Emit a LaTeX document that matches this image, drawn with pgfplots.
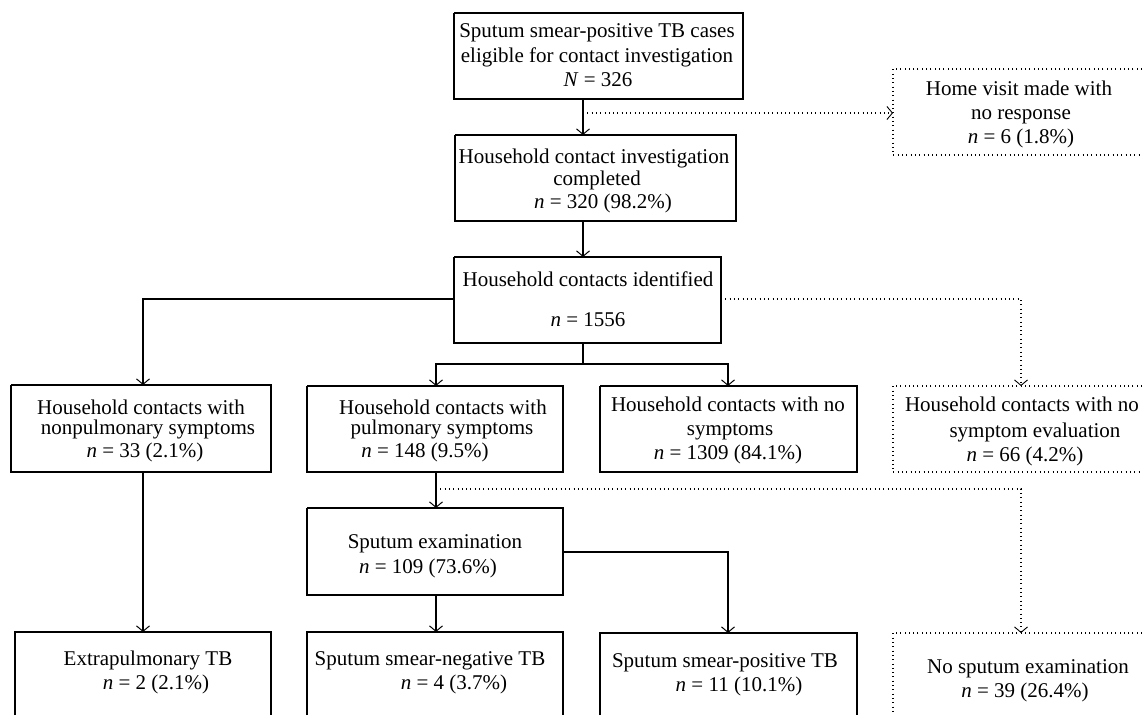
\documentclass[border=0pt]{standalone}
\usepackage{fontspec}
\setmainfont{Liberation Serif}
\usepackage{pgfplots}
\pgfplotsset{compat=1.18}
\usetikzlibrary{arrows.meta}
\tikzset{
  bx/.style={black,line width=1.3pt},
  ln/.style={black,line width=1.1pt},
  conn/.style={ln,-{Straight Barb[length=5.5pt,width=13pt,line width=1pt]}},
  dl/.style={black,line width=1.1pt,dash pattern=on 1pt off 3.3pt},
  darr/.style={dl,-{Straight Barb[length=5.5pt,width=13pt,line width=0.9pt]}},
  tx/.style={anchor=base,inner sep=0pt,font=\fontsize{21}{24}\selectfont}
}
\newcommand{\n}{\textit{n}}
\begin{document}
\begin{tikzpicture}[x=1pt,y=1pt]
\useasboundingbox (0,0) rectangle (1142,715);
\begin{axis}[at={(0pt,0pt)},anchor=south west,scale only axis,
  width=1142pt,height=715pt,xmin=0,xmax=1142,ymin=0,ymax=715,
  y dir=reverse,hide axis,clip=false]
% ---------- solid boxes ----------
\addplot[bx] coordinates {(454,13) (743,13) (743,99) (454,99) (454,13)};
\addplot[bx] coordinates {(455,135) (736,135) (736,221) (455,221) (455,135)};
\addplot[bx] coordinates {(454,257) (721,257) (721,343) (454,343) (454,257)};
\addplot[bx] coordinates {(11,385) (271,385) (271,472) (11,472) (11,385)};
\addplot[bx] coordinates {(307,386) (563,386) (563,472) (307,472) (307,386)};
\addplot[bx] coordinates {(600,386) (857,386) (857,472) (600,472) (600,386)};
\addplot[bx] coordinates {(307,508) (563,508) (563,595) (307,595) (307,508)};
\addplot[bx] coordinates {(15,715) (15,632) (271,632) (271,715)};
\addplot[bx] coordinates {(307,715) (307,632) (563,632) (563,715)};
\addplot[bx] coordinates {(600,715) (600,633) (857,633) (857,715)};
% ---------- dotted boxes ----------
\addplot[dl] coordinates {(1142,69) (893,69) (893,155) (1142,155)};
\addplot[dl] coordinates {(1142,386) (893,386) (893,472) (1142,472)};
\addplot[dl] coordinates {(1142,633) (893,633) (893,715)};
% ---------- solid connectors ----------
\addplot[conn] coordinates {(583,99) (583,135)};
\addplot[conn] coordinates {(583,221) (583,257)};
\addplot[conn] coordinates {(454,299) (143,299) (143,385)};
\addplot[ln] coordinates {(583,343) (583,364)};
\addplot[conn] coordinates {(583,364) (436,364) (436,386)};
\addplot[conn] coordinates {(583,364) (728,364) (728,386)};
\addplot[conn] coordinates {(436,472) (436,508)};
\addplot[conn] coordinates {(143,472) (143,632)};
\addplot[conn] coordinates {(436,595) (436,632)};
\addplot[conn] coordinates {(563,552) (728,552) (728,633)};
% ---------- dotted connectors ----------
\addplot[darr] coordinates {(583,113) (893,113)};
\addplot[darr] coordinates {(721,299) (1021,299) (1021,386)};
\addplot[darr] coordinates {(436,489) (1021,489) (1021,633)};
% ---------- texts ----------
\node[tx] at (axis cs:597,37) {Sputum smear-positive TB cases};
\node[tx] at (axis cs:597,62) {eligible for contact investigation};
\node[tx] at (axis cs:598,86) {\textit{N} = 326};
\node[tx] at (axis cs:594,163) {Household contact investigation};
\node[tx] at (axis cs:597,185) {completed};
\node[tx] at (axis cs:603,208) {\n{} = 320 (98.2\%)};
\node[tx] at (axis cs:1019,95) {Home visit made with};
\node[tx] at (axis cs:1021,119) {no response};
\node[tx] at (axis cs:1021,143) {\n{} = 6 (1.8\%)};
\node[tx] at (axis cs:588,286) {Household contacts identified};
\node[tx] at (axis cs:588,326) {\n{} = 1556};
\node[tx] at (axis cs:141,414) {Household contacts with};
\node[tx] at (axis cs:148,434) {nonpulmonary symptoms};
\node[tx] at (axis cs:145,457) {\n{} = 33 (2.1\%)};
\node[tx] at (axis cs:443,414) {Household contacts with};
\node[tx] at (axis cs:442,434) {pulmonary symptoms};
\node[tx] at (axis cs:425,457) {\n{} = 148 (9.5\%)};
\node[tx] at (axis cs:728,411) {Household contacts with no};
\node[tx] at (axis cs:730,435) {symptoms};
\node[tx] at (axis cs:728,459) {\n{} = 1309 (84.1\%)};
\node[tx] at (axis cs:1022,411) {Household contacts with no};
\node[tx] at (axis cs:1035,437) {symptom evaluation};
\node[tx] at (axis cs:1025,461) {\n{} = 66 (4.2\%)};
\node[tx] at (axis cs:435,548) {Sputum examination};
\node[tx] at (axis cs:428,573) {\n{} = 109 (73.6\%)};
\node[tx] at (axis cs:148,665) {Extrapulmonary TB};
\node[tx] at (axis cs:156,689) {\n{} = 2 (2.1\%)};
\node[tx] at (axis cs:430,665) {Sputum smear-negative TB};
\node[tx] at (axis cs:454,689) {\n{} = 4 (3.7\%)};
\node[tx] at (axis cs:725,667) {Sputum smear-positive TB};
\node[tx] at (axis cs:739,691) {\n{} = 11 (10.1\%)};
\node[tx] at (axis cs:1028,673) {No sputum examination};
\node[tx] at (axis cs:1025,697) {\n{} = 39 (26.4\%)};
\end{axis}
\end{tikzpicture}
\end{document}
